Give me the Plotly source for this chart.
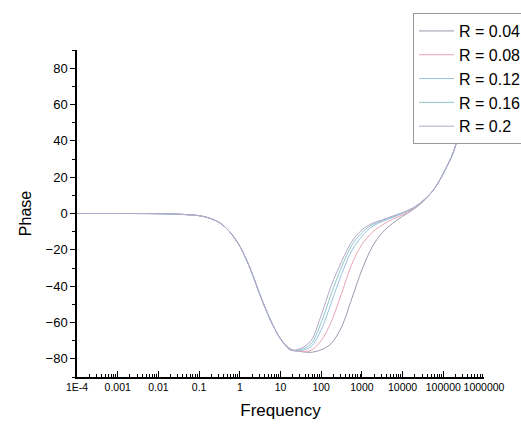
import plotly.graph_objects as go

# Frequency grid (Hz)
FREQ = [1e-4, 1e-3, 1e-2, 0.0316, 0.1, 0.178, 0.316, 0.562,
        1, 1.78, 3.16, 5.62, 10, 17.8, 31.6, 56.2,
        100, 178, 316, 562, 1000, 1778, 3162, 5623,
        10000, 17783, 31623, 56234, 1e5, 1.78e5, 3.16e5, 5.62e5, 1e6]

LOW = [0, 0, -0.1, -0.4, -1.2, -2.5, -5, -10, -18, -30, -45, -58.5, -69]

PHASE_R004 = LOW + [-74.6, -76, -76.4, -75, -71.5, -62.5, -47, -31, -18.5, -10.5, -5.5, -1.5, 2, 6.5, 12.7, 22, 34, 54, 74, 85]
PHASE_R008 = LOW + [-74.9, -75.9, -75.3, -70, -59.5, -44, -28, -17, -10.5, -6.3, -3.2, -0.7, 2.4, 6.8, 12.7, 22, 34, 54, 74, 85]
PHASE_R012 = LOW + [-75.1, -75.4, -73.3, -64, -49, -33.5, -20.5, -12.5, -7.2, -4.4, -2.2, 0.1, 2.8, 7, 12.7, 22, 34, 54, 74, 85]
PHASE_R016 = LOW + [-75.2, -74.9, -71.8, -60, -44, -29.5, -17.5, -10.5, -6.2, -3.9, -1.8, 0.3, 2.9, 7, 12.7, 22, 34, 54, 74, 85]
PHASE_R020 = LOW + [-75.2, -74.2, -70, -56, -39.5, -26.5, -15.5, -9, -5.5, -3.5, -1.5, 0.5, 3, 7, 12.7, 22, 34, 54, 74, 85]

NAMES = ["R = 0.04", "R = 0.08", "R = 0.12", "R = 0.16", "R = 0.2"]
SERIES = [PHASE_R004, PHASE_R008, PHASE_R012, PHASE_R016, PHASE_R020]
COLORS = ["#9a9aae", "#eaa4b2", "#98c0e0", "#8cc6c6", "#b6a8cc"]

X_TICKVALS = [1e-4, 1e-3, 1e-2, 1e-1, 1, 10, 100, 1000, 1e4, 1e5, 1e6]
X_TICKTEXT = ["1E-4", "0.001", "0.01", "0.1", "1", "10", "100", "1000", "10000", "100000", "1000000"]
Y_TICKVALS = [-80, -60, -40, -20, 0, 20, 40, 60, 80]

fig = go.Figure()
for name, ys, c in zip(NAMES, SERIES, COLORS):
    fig.add_trace(go.Scatter(x=FREQ, y=ys, mode="lines", name=name,
                             line=dict(color=c, width=1, shape="spline", smoothing=0.9)))

minor_x = [k * 10.0 ** d for d in range(-4, 6) for k in range(2, 10)]

fig.update_layout(
    width=521, height=425,
    paper_bgcolor="white", plot_bgcolor="white",
    margin=dict(l=77, r=37, t=50, b=48, autoexpand=False),
    font=dict(family="Arial, Liberation Sans, sans-serif", color="black"),
    legend=dict(x=0.8256, y=1.113, xanchor="left", yanchor="top",
                bordercolor="#9a9a9a", borderwidth=1, bgcolor="white",
                font=dict(size=16), itemwidth=35, tracegroupgap=0),
    showlegend=True,
)
fig.update_xaxes(type="log", range=[-4, 6], showgrid=False, zeroline=False,
                 showline=True, linecolor="black", linewidth=1.5,
                 ticks="inside", ticklen=6, tickwidth=1, tickcolor="black",
                 tickvals=X_TICKVALS, ticktext=X_TICKTEXT,
                 tickfont=dict(size=10.5),
                 minor=dict(tickvals=minor_x, ticks="inside", ticklen=3, tickcolor="black"),
                 title=dict(text="Frequency", font=dict(size=17), standoff=12))
fig.update_yaxes(range=[-90, 90], showgrid=False, zeroline=False,
                 showline=True, linecolor="black", linewidth=1.5,
                 ticks="outside", ticklen=5, tickwidth=1, tickcolor="black",
                 tickvals=Y_TICKVALS, tickfont=dict(size=13),
                 minor=dict(dtick=10, ticks="outside", ticklen=3, tickcolor="black"),
                 title=dict(text="Phase", font=dict(size=16), standoff=10))

fig.write_html("out.html")
